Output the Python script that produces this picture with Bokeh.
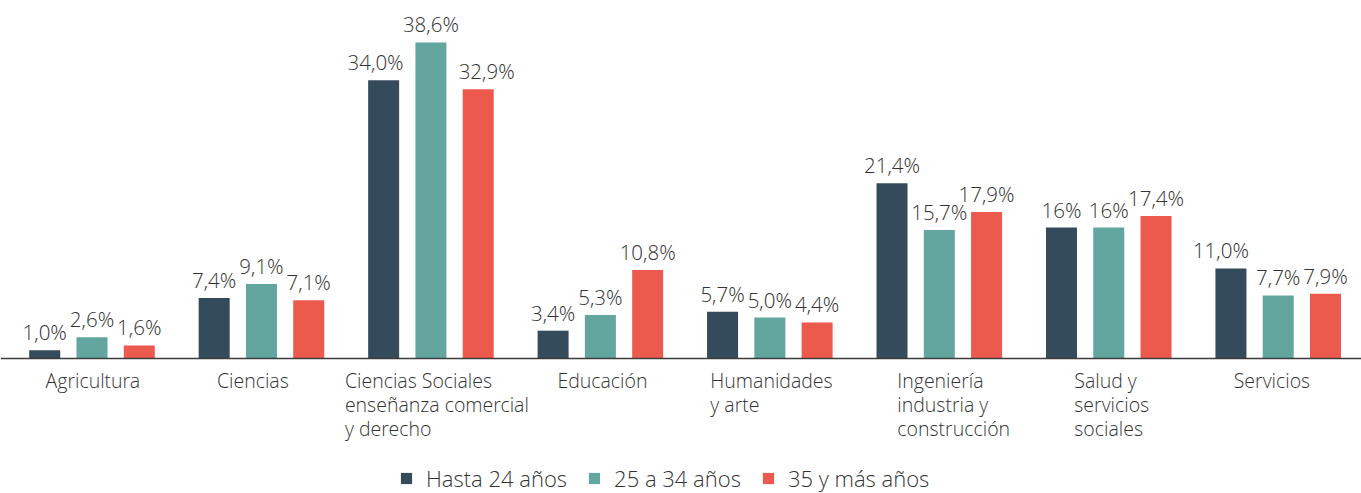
from bokeh.plotting import figure
from bokeh.models import Range1d, ColumnDataSource, Legend, LegendItem, Span
from bokeh.transform import dodge
from bokeh.core.properties import value
from bokeh.embed import file_html
from bokeh.resources import INLINE

categories = ["Agricultura", "Ciencias", "Ciencias Sociales\nenseñanza comercial\ny derecho",
              "Educación", "Humanidades\ny arte", "Ingeniería\nindustria y\nconstrucción",
              "Salud y\nservicios\nsociales", "Servicios"]
series_names = ["Hasta 24 años", "25 a 34 años", "35 y más años"]
hasta24 = [1.0, 7.4, 34.0, 3.4, 5.7, 21.4, 16.0, 11.0]
de25a34 = [2.6, 9.1, 38.6, 5.3, 5.0, 15.7, 16.0, 7.7]
mas35 = [1.6, 7.1, 32.9, 10.8, 4.4, 17.9, 17.4, 7.9]
lbl_hasta24 = ["1,0%", "7,4%", "34,0%", "3,4%", "5,7%", "21,4%", "16%", "11,0%"]
lbl_25a34 = ["2,6%", "9,1%", "38,6%", "5,3%", "5,0%", "15,7%", "16%", "7,7%"]
lbl_35 = ["1,6%", "7,1%", "32,9%", "10,8%", "4,4%", "17,9%", "17,4%", "7,9%"]
colors = ["#344B5B", "#62A69F", "#EC5A4E"]

# layout (pixels): left edge of each category label block relative to group centre
label_dx = [-46.5, -44.5, -86, -43, -59.5, -42, -34.5, -44.5]
# layout (pixels): horizontal nudges of value labels (to avoid collisions)
nudge_a = [0, 0, -8, 0, 0, 0, 0, -10]
nudge_b = [0, 0, 0, 0, 0, 0, 0, 0]
nudge_c = [0, 0, 8.5, 0, 0, 0, 0, 0]

FONT = "Open Sans Light, Open Sans"
TXT = "#333333"
W, H = 1361, 493
PX_PER_UNIT = 8.187
BASE_Y = 358

xpos = [i + 0.5 for i in range(len(categories))]
source = ColumnDataSource(dict(x=xpos, a=hasta24, b=de25a34, c=mas35,
                               la=lbl_hasta24, lb=lbl_25a34, lc=lbl_35,
                               na=nudge_a, nb=nudge_b, nc=nudge_c))
cat_src = ColumnDataSource(dict(x=xpos, y=[0] * len(xpos), text=categories, dx=label_dx))

group_px = 169.46
x0 = 0.5 - 91.5 / group_px
p = figure(x_range=Range1d(x0, x0 + W / group_px),
           y_range=Range1d(-(H - BASE_Y) / PX_PER_UNIT, BASE_Y / PX_PER_UNIT),
           width=W, height=H,
           output_backend="svg", toolbar_location=None,
           min_border_left=0, min_border_right=0, min_border_top=0, min_border_bottom=0)
p.outline_line_color = None
p.xgrid.visible = False
p.ygrid.visible = False
p.xaxis.visible = False
p.yaxis.visible = False

offsets = [-0.279, 0.0, 0.279]
cols = ["a", "b", "c"]
lcols = ["la", "lb", "lc"]
ncols = ["na", "nb", "nc"]
items = []
for off, col, lcol, ncol, color, name in zip(offsets, cols, lcols, ncols, colors, series_names):
    r = p.vbar(x=dodge("x", off), top=col, width=0.183,
               source=source, fill_color=color, line_color=None)
    p.text(x=dodge("x", off), y=col, text=lcol, source=source, x_offset=ncol,
           text_align="center", text_baseline="alphabetic", y_offset=-18,
           text_font=value(FONT), text_font_size="20.5px", text_color=TXT)
    items.append(LegendItem(label=name, renderers=[r]))

p.add_layout(Span(location=0, dimension="width", line_color="#3c3c3c", line_width=1.5))

p.text(x="x", y="y", text="text", x_offset="dx", y_offset=8, source=cat_src,
       text_align="left", text_baseline="top",
       text_font=value(FONT), text_font_size="19.5px", text_color=TXT,
       text_line_height=0.905)

legend = Legend(items=items, orientation="horizontal", location=(399, 0),
                glyph_width=14, glyph_height=14, label_standoff=13, spacing=20,
                padding=0, margin=0, border_line_color=None, background_fill_alpha=0,
                label_text_font=FONT, label_text_font_size="22px", label_text_color=TXT)
p.add_layout(legend)

open("out.html", "w").write(file_html(p, INLINE))
